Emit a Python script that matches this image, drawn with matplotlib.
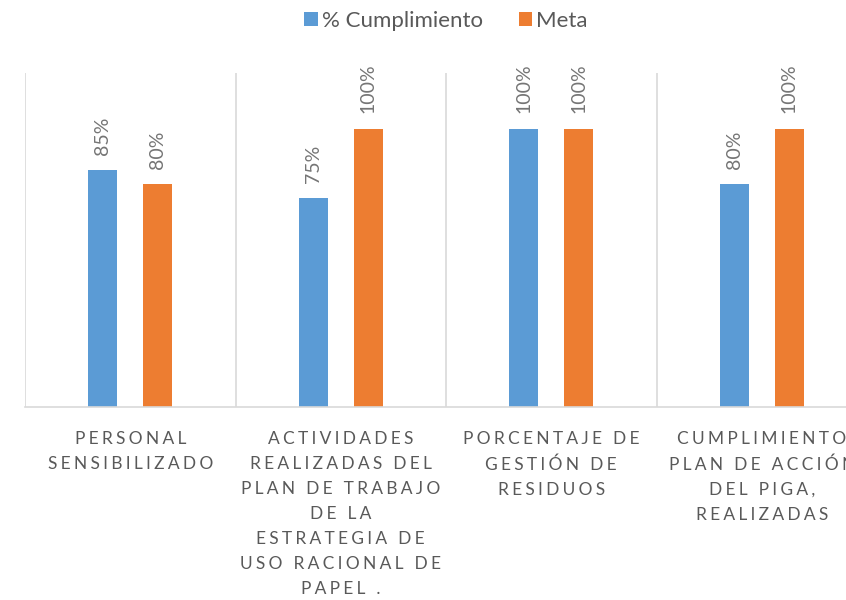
import matplotlib.pyplot as plt
import numpy as np

plt.rcParams['font.family'] = ['Lato', 'DejaVu Sans']

categorias = [
    "PERSONAL\nSENSIBILIZADO",
    "ACTIVIDADES\nREALIZADAS DEL\nPLAN DE TRABAJO\nDE LA\nESTRATEGIA DE\nUSO RACIONAL DE\nPAPEL .",
    "PORCENTAJE DE\nGESTIÓN DE\nRESIDUOS",
    "CUMPLIMIENTO\nPLAN DE ACCIÓN\nDEL PIGA,\nREALIZADAS",
]
cumplimiento = [85, 75, 100, 80]
meta = [80, 100, 100, 100]

azul = "#5B9BD5"
naranja = "#ED7D31"
gris = "#595959"


def espaciar(texto):
    # imita el espaciado entre letras de Excel
    sep = "\u2009\u200a"
    return "\n".join(sep.join(list(linea)) for linea in texto.split("\n"))


fig = plt.figure(figsize=(8.46, 6), dpi=100)
ax = fig.add_axes([25 / 846, 193 / 600, 842 / 846, 334 / 600])

x = np.arange(len(categorias))
ancho = 0.138
off = 0.13
b1 = ax.bar(x - off, cumplimiento, ancho, color=azul, label="% Cumplimiento")
b2 = ax.bar(x + off, meta, ancho, color=naranja, label="Meta")

for barras in (b1, b2):
    for b in barras:
        ax.annotate(f"{b.get_height():.0f}%", (b.get_x() + b.get_width() / 2, b.get_height()),
                    xytext=(0, 11), textcoords="offset points", rotation=90,
                    ha="center", va="bottom", fontsize=14, color="#757575")

for s in np.arange(-0.5, len(categorias), 1):
    ax.axvline(s, color="#d9d9d9", lw=1.2, zorder=0)

ax.set_xlim(-0.5, len(categorias) - 0.5)
ax.set_ylim(0, 120)
ax.set_yticks([])
ax.set_xticks(x)
ax.set_xticklabels([espaciar(c) for c in categorias], fontsize=12.5, color=gris, linespacing=1.7)
ax.tick_params(axis="x", length=0, pad=17)

for lado in ["left", "right", "top"]:
    ax.spines[lado].set_visible(False)
ax.spines["bottom"].set_color("#d9d9d9")
ax.spines["bottom"].set_linewidth(1.2)

ax.legend(loc="center", bbox_to_anchor=(0.5, 1.156), ncol=2, frameon=False,
          fontsize=16, labelcolor=gris, handlelength=0.6, handleheight=0.6,
          handletextpad=0.2, columnspacing=1.6)

plt.savefig("out.png", dpi=100)
